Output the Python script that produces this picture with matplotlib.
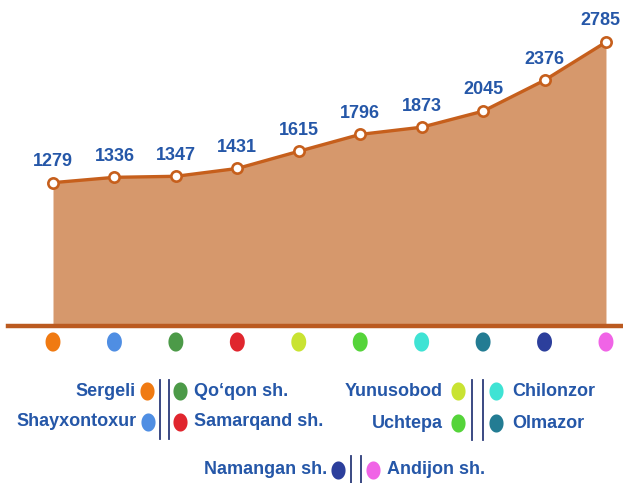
import numpy as np
import matplotlib
matplotlib.use("Agg")
import matplotlib.pyplot as plt
from matplotlib.path import Path
from matplotlib.transforms import blended_transform_factory

# data
districts = ["Sergeli", "Shayxontoxur", "Qo‘qon sh.", "Samarqand sh.", "Yunusobod",
             "Uchtepa", "Chilonzor", "Olmazor", "Namangan sh.", "Andijon sh."]
values = [1279, 1336, 1347, 1431, 1615, 1796, 1873, 2045, 2376, 2785]
dot_colors = ["#f07a12", "#4f8ee3", "#4c9a48", "#e0262e", "#c9e332",
              "#55d43a", "#3fe3d4", "#237c93", "#2c3f9c", "#f064e6"]

W, H = 623, 483
plt.rcParams['font.family'] = ['Liberation Sans Narrow', 'Liberation Sans', 'DejaVu Sans']
TXT = "#2557a8"
FILL = "#d6986c"
LINE = "#c65f1c"

fig = plt.figure(figsize=(W / 100, H / 100), dpi=100)
fig.patch.set_facecolor("white")

# main chart axes: from top of figure down to the baseline (y=326 px)
base_px = 326
ax = fig.add_axes([0, 1 - base_px / H, 1, base_px / H])
ax.set_xlim(-0.8626, 9.277)
ax.set_ylim(-257, 3236)
ax.axis("off")

x = np.arange(len(values))
y0 = ax.get_ylim()[0]
ax.fill_between(x, values, y0, color=FILL, lw=0, zorder=1)
ax.plot(x, values, color=LINE, lw=2.4, zorder=3, solid_capstyle="round")
ax.scatter(x, values, s=55, facecolor="white", edgecolor=LINE, linewidth=1.9, zorder=4)
ax.axhline(y0, xmin=8 / W, xmax=1, color="#bb5a20", lw=3.2, zorder=2, clip_on=False)

for xi, v in zip(x, values):
    dx = -4 if xi == len(values) - 1 else 0
    ax.annotate(str(v), (xi, v), xytext=(dx, 12), textcoords="offset points",
                ha="center", va="baseline", fontsize=13, fontweight="bold", color=TXT)

# oval marker (taller than wide)
t = np.linspace(0, 2 * np.pi, 60)
oval = Path(np.column_stack([0.78 * np.cos(t), np.sin(t)]))

# colored dots under the baseline
tr = blended_transform_factory(ax.transData, fig.transFigure)
ax.scatter(x, np.full(len(x), 1 - 342 / H), marker=oval, s=190, c=dot_colors,
           transform=tr, clip_on=False, zorder=5, lw=0)

# legend drawn on a pixel canvas
lg = fig.add_axes([0, 0, 1, 1], facecolor="none")
lg.set_xlim(0, W)
lg.set_ylim(H, 0)
lg.axis("off")

def left_item(i, xr, yc, gap=11):
    lg.scatter([xr], [yc], marker=oval, s=170, color=dot_colors[i], lw=0, clip_on=False)
    lg.text(xr - gap, yc, districts[i], ha="right", va="center", fontsize=13,
            fontweight="bold", color=TXT)

def right_item(i, xl, yc, gap=14):
    lg.scatter([xl], [yc], marker=oval, s=170, color=dot_colors[i], lw=0, clip_on=False)
    lg.text(xl + gap, yc, districts[i], ha="left", va="center", fontsize=13,
            fontweight="bold", color=TXT)

def dividers(x1, x2, ya, yb):
    for xv in (x1, x2):
        lg.plot([xv, xv], [ya, yb], color="#2b3a7a", lw=1.3, clip_on=False)

left_item(0, 147, 391)
left_item(1, 148, 422)
dividers(160, 169, 380, 439)
right_item(2, 180, 391)
right_item(3, 180, 422)

left_item(4, 458, 391, gap=15)
left_item(5, 458, 423, gap=15)
dividers(472, 483, 380, 440)
right_item(6, 496, 391, gap=16)
right_item(7, 496, 423, gap=16)

left_item(8, 338, 470)
dividers(351, 361, 456, 483)
right_item(9, 373, 470)

fig.savefig("out.png", dpi=100, facecolor="white")
